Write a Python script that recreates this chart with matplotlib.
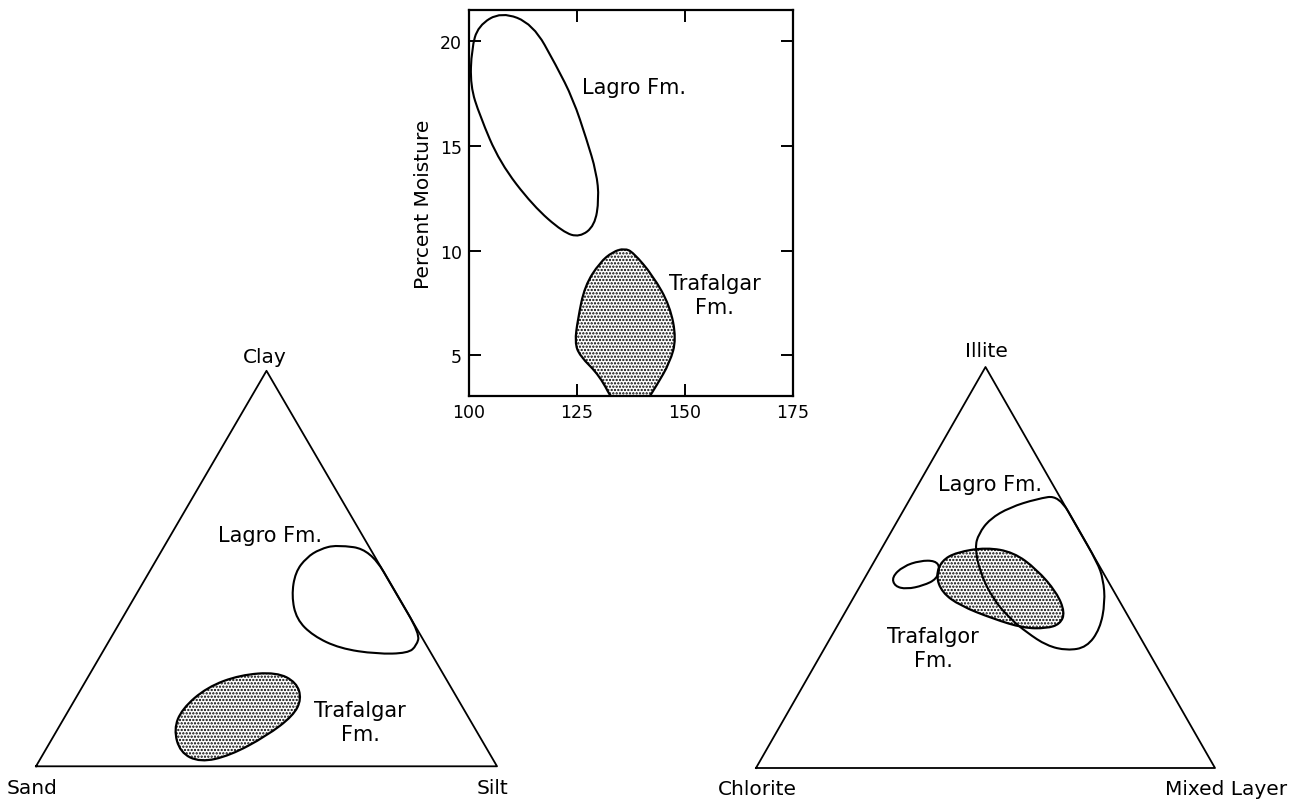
import numpy as np
import matplotlib
matplotlib.use("Agg")
import matplotlib.pyplot as plt
from matplotlib.path import Path
from matplotlib.patches import PathPatch

plt.rcParams['font.family'] = ['DejaVu Sans']
plt.rcParams['hatch.linewidth'] = 1.1

# --- Density vs. moisture (top panel) ---
lagro_density = [107.5, 114.8, 120.2, 124.1, 127.2, 129.5, 130.1, 129.1, 125.6,
                 121.8, 114.8, 107.1, 102.5, 100.3, 100.6, 102.1]
lagro_moisture = [21.42, 20.83, 18.84, 17.24, 15.33, 13.74, 12.47, 11.19, 10.64,
                  10.88, 12.15, 14.22, 16.45, 17.88, 19.63, 20.75]

traf_density = [136.0, 138.0, 142.6, 146.5, 148.0, 146.5, 143.4, 140.5, 133.8,
                130.3, 125.6, 124.5, 125.2, 126.8, 130.3, 133.3]
traf_moisture = [10.11, 9.92, 8.80, 7.37, 5.78, 4.66, 3.55, 2.6, 2.6,
                 4.02, 4.98, 5.62, 6.73, 8.32, 9.44, 9.95]

x_ticks = [100, 125, 150, 175]
y_ticks = [5, 10, 15, 20]

# --- Texture ternary (Clay top, Silt right, Sand left), percent ---
tex_lagro_clay = [56.0, 54.8, 43.5, 33.5, 30.5, 28.6, 28.4, 29.8, 33.0, 37.2, 43.1, 49.1, 52.8, 54.9]
tex_lagro_silt = [37.2, 45.2, 56.5, 66.5, 67.3, 66.4, 59.7, 51.0, 43.6, 37.9, 33.9, 31.7, 32.3, 34.1]

tex_traf_clay = [23.8, 21.2, 17.0, 12.8, 7.7, 2.7, 1.0, 3.5, 9.4, 14.5, 20.0, 23.1]
tex_traf_silt = [40.3, 45.9, 49.1, 49.4, 46.2, 40.7, 35.1, 29.5, 25.2, 24.4, 27.1, 32.7]

# --- Clay mineral ternary (Illite top, Mixed Layer right, Chlorite left), percent ---
min_lagro_illite = [68.0, 67.1, 65.0, 62.1, 58.4, 55.0, 48.8, 42.1, 37.2, 33.8, 30.5,
                    29.3, 30.1, 34.7, 41.3, 47.1, 51.3, 60.0]
min_lagro_mixed = [32.0, 27.6, 22.8, 19.9, 19.3, 20.2, 24.4, 30.6, 36.8, 42.1, 48.1,
                   53.1, 57.0, 57.6, 55.4, 52.1, 48.7, 40.0]

min_blob_illite = [47.6, 50.3, 51.7, 51.7, 50.0, 47.1, 45.5, 44.6, 45.3]
min_blob_mixed = [5.8, 6.9, 9.9, 13.2, 15.1, 15.8, 13.7, 10.5, 7.6]

min_traf_illite = [55.0, 53.8, 49.6, 43.8, 38.8, 35.9, 34.8, 34.9, 37.2, 40.5, 43.8,
                   48.0, 51.7, 53.8]
min_traf_mixed = [22.7, 29.2, 36.3, 43.6, 47.9, 48.3, 45.9, 40.8, 33.1, 24.2, 18.6,
                  15.2, 14.6, 16.8]


def closed_curve(xs, ys):
    # smooth closed outline drawn with quadratic bezier segments
    pts = np.column_stack([xs, ys])
    mids = (pts + np.roll(pts, -1, axis=0)) / 2
    verts = [mids[-1]]
    codes = [Path.MOVETO]
    for p, m in zip(pts, mids):
        verts += [p, m]
        codes += [Path.CURVE3, Path.CURVE3]
    return Path(verts, codes)


def tern_xy(top, right):
    top = np.asarray(top, float) / 100
    right = np.asarray(right, float) / 100
    return right + top / 2, top


def outline(ax, xs, ys, shaded=False):
    if shaded:
        ax.add_patch(PathPatch(closed_curve(xs, ys), facecolor="white", edgecolor="black",
                               hatch=".....", lw=1.6))
    else:
        ax.add_patch(PathPatch(closed_curve(xs, ys), facecolor="none", edgecolor="black", lw=1.5))


fig = plt.figure(figsize=(12.97, 8.03), dpi=100)
W, H = 1297, 803
FS = 14.5

# top panel
ax = fig.add_axes([469 / W, (H - 396.7) / H, 324 / W, 385.7 / H])
outline(ax, traf_density, traf_moisture, shaded=True)
outline(ax, lagro_density, lagro_moisture)
ax.set_xlim(100, 175)
ax.set_ylim(3.07, 21.5)
ax.set_xticks(x_ticks)
ax.set_yticks(y_ticks)
ax.tick_params(direction="in", top=True, right=True, length=8.5, width=1.4,
               labelsize=12.5, pad=5)
for s in ax.spines.values():
    s.set_linewidth(1.6)
ax.set_ylabel("Percent Moisture", fontsize=14.5, labelpad=5)
ax.text(138.1, 17.82, "Lagro Fm.", fontsize=15, ha="center", va="center")
ax.text(156.8, 7.86, "Trafalgar\nFm.", fontsize=15, ha="center", va="center",
        linespacing=1.25)

# texture triangle
axl = fig.add_axes([36 / W, (H - 767.3) / H, 461 / W, 395.5 / H])
tx, ty = tern_xy([0, 0, 100, 0], [0, 100, 0, 0])
axl.plot(tx, ty, color="black", lw=1.3, clip_on=False)
outline(axl, *tern_xy(tex_traf_clay, tex_traf_silt), shaded=True)
outline(axl, *tern_xy(tex_lagro_clay, tex_lagro_silt))
axl.set_xlim(0, 1)
axl.set_ylim(0, 1)
axl.axis("off")
axl.text(0.497, 1.037, "Clay", fontsize=FS, ha="center", va="center")
axl.text(-0.009, -0.053, "Sand", fontsize=FS, ha="center", va="center")
axl.text(0.991, -0.053, "Silt", fontsize=FS, ha="center", va="center")
axl.text(0.508, 0.585, "Lagro Fm.", fontsize=15, ha="center", va="center")
axl.text(0.703, 0.111, "Trafalgar\nFm.", fontsize=15, ha="center", va="center",
         linespacing=1.25)

# clay mineral triangle
axr = fig.add_axes([756 / W, (H - 769) / H, 459 / W, 401 / H])
axr.plot(tx, ty, color="black", lw=1.3, clip_on=False)
outline(axr, *tern_xy(min_traf_illite, min_traf_mixed), shaded=True)
outline(axr, *tern_xy(min_lagro_illite, min_lagro_mixed))
outline(axr, *tern_xy(min_blob_illite, min_blob_mixed))
axr.set_xlim(0, 1)
axr.set_ylim(0, 1)
axr.axis("off")
axr.text(0.503, 1.040, "Illite", fontsize=FS, ha="center", va="center")
axr.text(0.002, -0.052, "Chlorite", fontsize=FS, ha="center", va="center")
axr.text(1.024, -0.052, "Mixed Layer", fontsize=FS, ha="center", va="center")
axr.text(0.51, 0.708, "Lagro Fm.", fontsize=15, ha="center", va="center")
axr.text(0.386, 0.30, "Trafalgor\nFm.", fontsize=15, ha="center", va="center",
         linespacing=1.25)

fig.savefig("out.png", dpi=100)
